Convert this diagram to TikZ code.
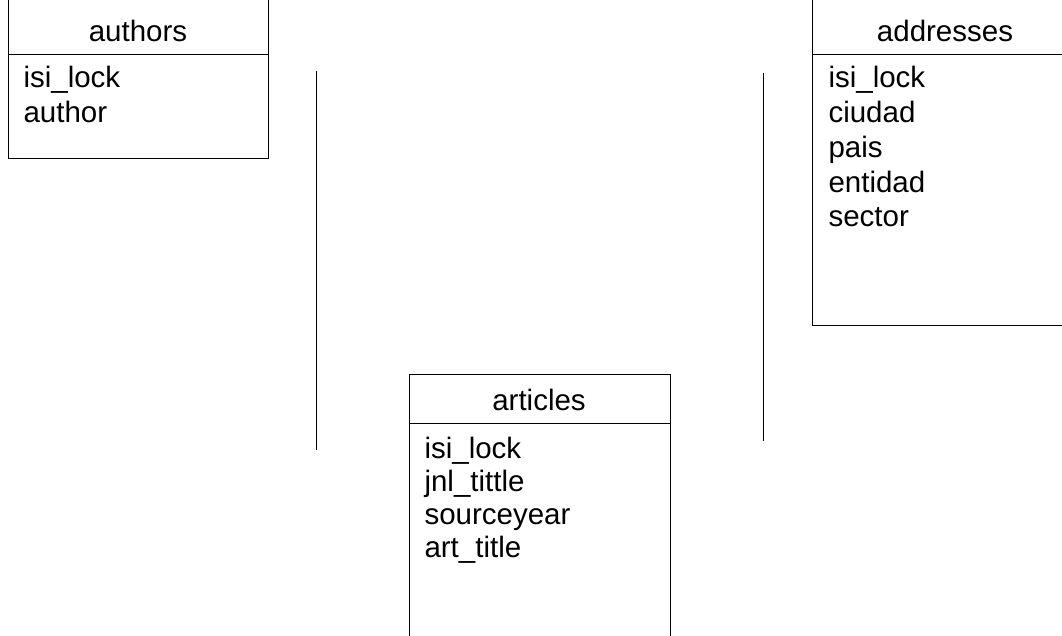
\documentclass[tikz,border=0pt]{standalone}
\usepackage{fontspec}
\setmainfont{Liberation Sans}
\begin{document}
\begin{tikzpicture}[x=1pt, y=-1pt, line width=1pt,
        ttl/.style={font=\fontsize{29.5}{34}\selectfont, anchor=base, inner sep=0pt},
        fld/.style={font=\fontsize{29.5}{34}\selectfont, anchor=base west, inner sep=0pt}]
        \useasboundingbox (0,0) rectangle (1062,636);
        % authors
        \draw (8,-5) rectangle (268,159);
        \draw (8,55) -- (268,55);
        \node[ttl] (authors) at (138,42) {authors};
        \node[fld] (au1) at (23,88) {isi\_lock};
        \node[fld] (au2) at (23,123) {author};
        % addresses
        \draw (812,-5) rectangle (1080,325);
        \draw (812,55) -- (1080,55);
        \node[ttl] (addresses) at (945,42) {addresses};
        \node[fld] (ad1) at (828,88) {isi\_lock};
        \node[fld] (ad2) at (828,123) {ciudad};
        \node[fld] (ad3) at (828,158) {pais};
        \node[fld] (ad4) at (828,193) {entidad};
        \node[fld] (ad5) at (828,227) {sector};
        % articles
        \draw (409,374) rectangle (670,650);
        \draw (409,423) -- (670,423);
        \node[ttl] (articles) at (539,410) {articles};
        \node[fld] (ar1) at (424,458) {isi\_lock};
        \node[fld] (ar2) at (424,491) {jnl\_tittle};
        \node[fld] (ar3) at (424,524) {sourceyear};
        \node[fld] (ar4) at (424,557) {art\_title};
        % links
        \coordinate (l1a) at (316,71);
        \coordinate (l1b) at (316,450);
        \coordinate (l2a) at (763,73);
        \coordinate (l2b) at (763,441);
        \draw (l1a) -- (l1b);
        \draw (l2a) -- (l2b);
\end{tikzpicture}
\end{document}
